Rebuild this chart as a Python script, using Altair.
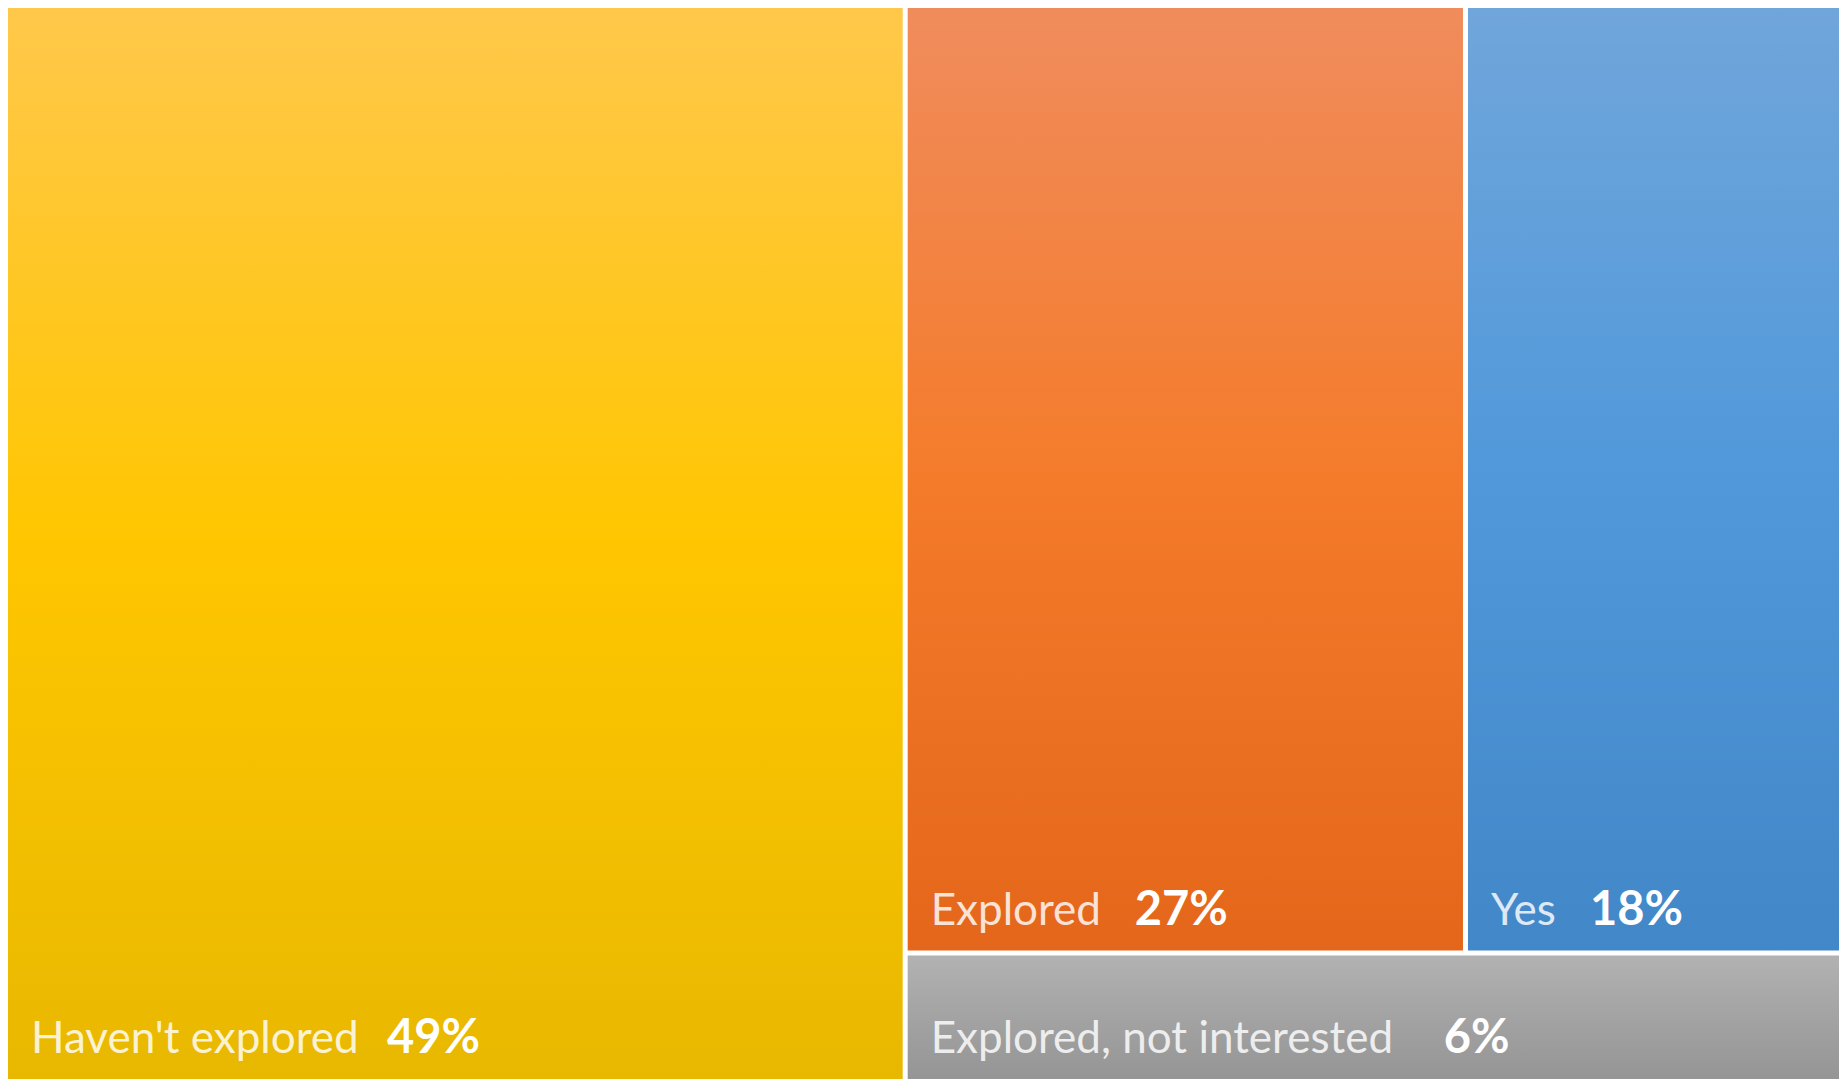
import altair as alt
import pandas as pd

# ---- data ----
categories = ["Haven't explored", "Explored", "Yes", "Explored, not interested"]
values = [49, 27, 18, 6]
pct_labels = ["49%", "27%", "18%", "6%"]

# ---- styling ----
W, H = 1831, 1071
GAP = 5
gradients = {
    "Haven't explored": ["#FFC84A", "#FFC600", "#E8B800"],
    "Explored": ["#F08C5C", "#F47B2A", "#E4661A"],
    "Yes": ["#70A6DA", "#5098DA", "#4287C8"],
    "Explored, not interested": ["#B2B2B2", "#A3A3A3", "#959595"],
}
pct_offset_px = {"Haven't explored": 356, "Explored": 204, "Yes": 99,
                 "Explored, not interested": 513}
LABEL_INSET_X = 23
LABEL_INSET_Y = 26

# ---- treemap layout computed from the values ----
v = dict(zip(categories, values))
total = sum(values)
left_w = v["Haven't explored"] / total
rest = 1 - left_w
bottom_h = v["Explored, not interested"] / total / rest
split = left_w + rest * v["Explored"] / (v["Explored"] + v["Yes"])
boxes = {
    "Haven't explored": (0, left_w, 0, 1),
    "Explored": (left_w, split, 0, 1 - bottom_h),
    "Yes": (split, 1, 0, 1 - bottom_h),
    "Explored, not interested": (left_w, 1, 1 - bottom_h, 1),
}
gx = GAP / 2 / W
gy = GAP / 2 / H


def shrink(a, b, g):
    return (a + g if a > 0 else a, b - g if b < 1 else b)


rows = []
for c, val, p in zip(categories, values, pct_labels):
    x0, x1, y0, y1 = boxes[c]
    x0, x1 = shrink(x0, x1, gx)
    y0, y1 = shrink(y0, y1, gy)
    tx = x0 + LABEL_INSET_X / W
    ty = y1 - LABEL_INSET_Y / H
    rows.append(dict(cat=c, value=val, pct=p, x0=x0, x1=x1, y0=y0, y1=y1,
                     tx=tx, ty=ty, px=tx + pct_offset_px[c] / W))
df = pd.DataFrame(rows)

xs = alt.Scale(domain=[0, 1], nice=False, zero=False)
ys = alt.Scale(domain=[0, 1], nice=False, zero=False, reverse=True)
base = alt.Chart(df)

layers = []
for c in categories:
    cols = gradients[c]
    grad = alt.Gradient(
        gradient="linear",
        stops=[alt.GradientStop(color=cols[0], offset=0),
               alt.GradientStop(color=cols[1], offset=0.5),
               alt.GradientStop(color=cols[2], offset=1)],
        x1=0, x2=0, y1=0, y2=1,
    )
    layers.append(
        base.transform_filter(alt.datum.cat == c).mark_rect(fill=grad).encode(
            x=alt.X("x0:Q", scale=xs, axis=None),
            x2="x1:Q",
            y=alt.Y("y0:Q", scale=ys, axis=None),
            y2="y1:Q",
        )
    )

labels = base.mark_text(font="Lato", fontSize=44, color="#FFFFFF", opacity=0.82,
                        align="left", baseline="alphabetic").encode(
    x=alt.X("tx:Q", scale=xs, axis=None),
    y=alt.Y("ty:Q", scale=ys, axis=None),
    text="cat:N",
)
pcts = base.mark_text(font="Lato", fontSize=47, fontWeight="bold", color="#FFFFFF",
                      align="left", baseline="alphabetic").encode(
    x=alt.X("px:Q", scale=xs, axis=None),
    y=alt.Y("ty:Q", scale=ys, axis=None),
    text="pct:N",
)

chart = alt.layer(*layers, labels, pcts).properties(
    width=W, height=H, padding=0, background="white",
    autosize=alt.AutoSizeParams(type="none"),
).configure_view(strokeWidth=0)

chart.save("out.html", embed_options={"renderer": "svg", "actions": False})
